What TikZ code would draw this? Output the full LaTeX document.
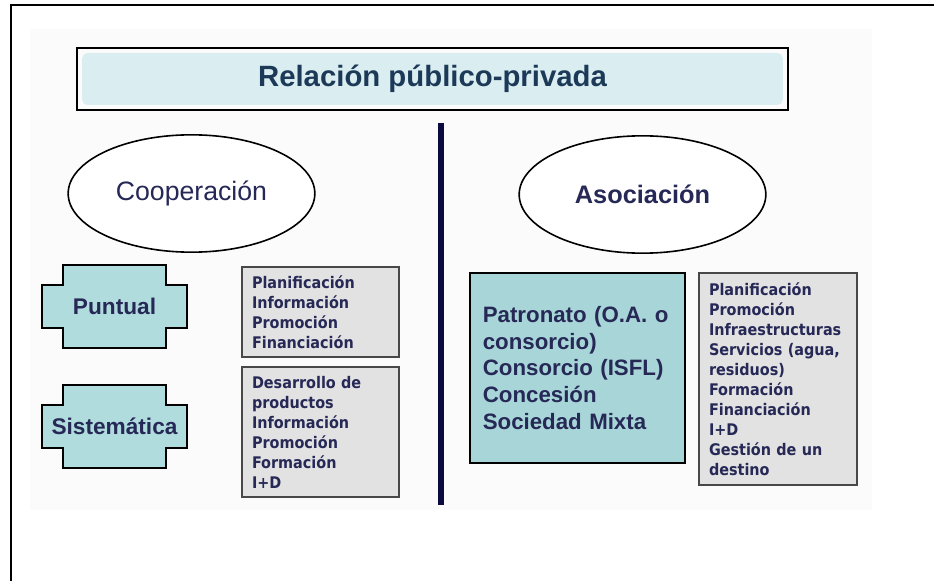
\documentclass[tikz,border=0pt]{standalone}
\usepackage{fontspec}
\setmainfont{Liberation Sans}
\newfontfamily\listfont{DejaVu Sans Condensed}
\usetikzlibrary{shapes.geometric, positioning, backgrounds}
\definecolor{navytext}{RGB}{38,40,86}
\definecolor{titletext}{RGB}{28,58,88}
\definecolor{titlecyan}{RGB}{218,237,240}
\definecolor{boxcyan}{RGB}{176,220,222}
\definecolor{bigcyan}{RGB}{168,213,216}
\definecolor{listgray}{RGB}{226,226,226}
\definecolor{listborder}{RGB}{72,72,72}
\definecolor{barnavy}{RGB}{10,10,62}
\definecolor{slidebg}{RGB}{251,251,251}

\begin{document}
\begin{tikzpicture}[x=0.75pt, y=-0.75pt, node distance=90pt]
\useasboundingbox (0,0) rectangle (934,581);

% Define styles
\tikzstyle{title} = [rectangle, draw, line width=1.5pt, minimum width=533pt, minimum height=46.5pt, font=\bfseries\fontsize{22}{26}\selectfont, text=titletext]
\tikzstyle{oval} = [ellipse, draw, line width=1.2pt, fill=white, minimum width=185pt, minimum height=88pt, text=navytext]
\tikzstyle{stepbox} = [rectangle, font=\bfseries\fontsize{17}{20}\selectfont, text=navytext, minimum width=108pt, minimum height=32pt]
\tikzstyle{stepline} = [draw, line width=1.5pt, fill=boxcyan]
\tikzstyle{listbox} = [rectangle, draw=listborder, line width=1pt, fill=listgray, text width=102.75pt, inner xsep=7.5pt, align=left, font=\listfont\bfseries\fontsize{12}{15}\selectfont, text=navytext]
\tikzstyle{bigbox} = [rectangle, draw, line width=1.5pt, fill=bigcyan, minimum width=161.25pt, minimum height=142.5pt, text width=142pt, align=left, font=\bfseries\fontsize{16.7}{20}\selectfont, text=navytext]
\tikzstyle{divider} = [line width=4.5pt, barnavy]

% Frame of the slide
\draw [line width=2pt] (11,581) |- (934,5);

% Title
\node [title] (title) at (432.5,79) {Relación público-privada};

% Two kinds of relation
\node [oval, font=\fontsize{20}{24}\selectfont] (coop) at (191.5,193.5) {Cooperación};
\node [oval, font=\bfseries\fontsize{19}{23}\selectfont] (asoc) at (642.5,194.5) {Asociación};

% Cooperation side
\node [stepbox] (puntual) at (114.5,306.5) {Puntual};
\node [stepbox, below of=puntual] (sistematica) {Sistemática};
\node [listbox, minimum height=67.5pt] (puntlist) at (320.5,312) {Planificación\\Información\\Promoción\\Financiación};
\node [listbox, minimum height=97.5pt, below of=puntlist] (sistlist) {Desarrollo de\\productos\\Información\\Promoción\\Formación\\I+D};

% Association side
\node [bigbox] (formas) at (577.5,368) {Patronato (O.A. o\\consorcio)\\Consorcio (ISFL)\\Concesión\\Sociedad Mixta};
\node [listbox, minimum height=159pt, text width=103.5pt] (asoclist) at (778,379) {Planificación\\Promoción\\Infraestructuras\\Servicios~(agua,\\residuos)\\Formación\\Financiación\\I+D\\Gestión de un\\destino};

% Divider
\coordinate (bartop) at (441,123);
\coordinate (barbot) at (441,505);
\draw [divider] (bartop) -- (barbot);

% Backgrounds
\begin{scope}[on background layer]
\fill [slidebg] (30,29) rectangle (872,510);
\fill [titlecyan, rounded corners=4pt] ([shift={(6,6)}]title.north west) rectangle ([shift={(-6,-6)}]title.south east);
\foreach \n in {puntual, sistematica}
  \draw [stepline] (\n.center) ++(-51.5,-41.5) -- ++(103,0) -- ++(0,20) -- ++(21,0) -- ++(0,43) -- ++(-21,0) -- ++(0,20) -- ++(-103,0) -- ++(0,-20) -- ++(-21,0) -- ++(0,-43) -- ++(21,0) -- cycle;
\end{scope}

\end{tikzpicture}
\end{document}
